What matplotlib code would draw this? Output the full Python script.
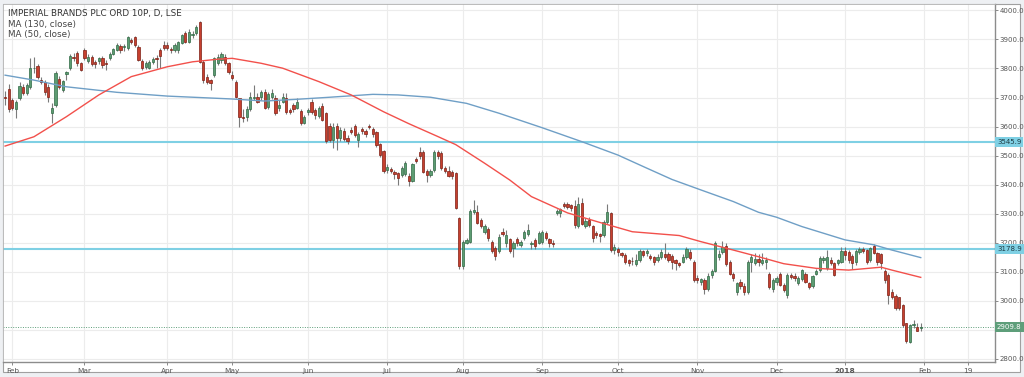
import numpy as np
import pandas as pd
import matplotlib
matplotlib.use("Agg")
import matplotlib.pyplot as plt
from matplotlib.patches import Rectangle

# Imperial Brands daily candles, 30 Jan 2017 - 31 Jan 2018
title = "IMPERIAL BRANDS PLC ORD 10P, D, LSE"
uk_holidays = ["2017-04-14", "2017-04-17", "2017-05-01", "2017-05-29",
               "2017-08-28", "2017-12-25", "2017-12-26", "2018-01-01"]

opens = [
    3702, 3730,
    3692, 3661, 3697, 3737, 3714, 3737, 3800, 3808, 3760, 3754, 3737, 3646, 3674, 3764, 3726, 3781, 3803, 3841, 3855, 3818,
    3864, 3827, 3838, 3821, 3826, 3837, 3818, 3835, 3849, 3864, 3877, 3874, 3870, 3898, 3907, 3875, 3827, 3804, 3803, 3824, 3837, 3863, 3881,
    3881, 3866, 3864, 3862, 3889, 3921, 3892, 3915, 3921, 3959, 3824, 3772, 3760, 3778, 3818, 3829, 3841, 3818,
    3778, 3752, 3697, 3634, 3634, 3660, 3700, 3703, 3703, 3720, 3669, 3703, 3700, 3663, 3686, 3700, 3657, 3674, 3663, 3654, 3614,
    3651, 3686, 3657, 3638, 3672, 3646, 3603, 3554, 3603, 3560, 3585, 3562, 3588, 3602, 3554, 3592, 3585, 3602, 3592, 3580, 3539, 3516,
    3450, 3454, 3445, 3439, 3433, 3436, 3431, 3413, 3488, 3514, 3514, 3447, 3433, 3451, 3511, 3508, 3459, 3447, 3445, 3439, 3284,
    3120, 3200, 3204, 3307, 3307, 3278, 3238, 3246, 3204, 3181, 3173, 3236, 3198, 3212, 3181, 3213, 3193, 3215, 3230, 3196, 3210, 3200,
    3204, 3233, 3212, 3200, 3301, 3301, 3334, 3332, 3330, 3327, 3259, 3336, 3259, 3278, 3258, 3233, 3229, 3227, 3270, 3301, 3175,
    3179, 3166, 3158, 3141, 3138, 3127, 3141, 3172, 3164, 3155, 3150, 3141, 3152, 3162, 3162, 3155, 3141, 3129, 3135, 3150, 3170, 3135,
    3078, 3066, 3072, 3041, 3089, 3104, 3152, 3170, 3190, 3133, 3091, 3029, 3066, 3051, 3030, 3135, 3132, 3143, 3132, 3135, 3093, 3040,
    3066, 3091, 3055, 3020, 3089, 3086, 3063, 3074, 3093, 3060, 3051, 3093, 3106, 3141, 3112, 3141, 3129, 3132, 3135,
    3173, 3169, 3155, 3135, 3170, 3178, 3175, 3141, 3189, 3164, 3161, 3104, 3089, 3032, 3017, 3012, 2986, 2923, 2860, 2918, 2911, 2906,
]
highs = [
    3722, 3745,
    3700, 3690, 3754, 3745, 3750, 3835, 3840, 3815, 3770, 3760, 3745, 3680, 3790, 3775, 3762, 3792, 3850, 3855, 3860, 3822,
    3870, 3850, 3845, 3830, 3840, 3842, 3830, 3858, 3870, 3888, 3885, 3885, 3912, 3905, 3912, 3880, 3832, 3825, 3830, 3838, 3845, 3870, 3895,
    3890, 3875, 3888, 3895, 3920, 3930, 3935, 3930, 3950, 3962, 3830, 3780, 3765, 3840, 3850, 3857, 3850, 3822,
    3790, 3760, 3700, 3660, 3670, 3720, 3743, 3715, 3725, 3730, 3720, 3730, 3710, 3690, 3715, 3715, 3665, 3680, 3700, 3660, 3640,
    3665, 3695, 3665, 3670, 3680, 3650, 3612, 3612, 3612, 3600, 3595, 3570, 3600, 3610, 3580, 3600, 3590, 3608, 3598, 3585, 3545, 3520,
    3470, 3460, 3450, 3445, 3465, 3480, 3440, 3475, 3495, 3530, 3520, 3455, 3455, 3520, 3520, 3515, 3465, 3465, 3450, 3445, 3290,
    3210, 3215, 3315, 3347, 3330, 3285, 3265, 3255, 3210, 3190, 3230, 3250, 3245, 3218, 3205, 3220, 3210, 3245, 3265, 3205, 3215, 3240,
    3245, 3240, 3218, 3210, 3318, 3320, 3340, 3340, 3335, 3347, 3359, 3353, 3285, 3290, 3262, 3240, 3235, 3280, 3333, 3305, 3195,
    3185, 3170, 3165, 3145, 3150, 3160, 3180, 3175, 3180, 3160, 3155, 3160, 3180, 3200, 3170, 3160, 3145, 3135, 3160, 3185, 3180, 3140,
    3090, 3080, 3078, 3095, 3110, 3205, 3175, 3205, 3200, 3140, 3100, 3065, 3075, 3060, 3140, 3160, 3165, 3160, 3165, 3150, 3100, 3080,
    3085, 3100, 3060, 3095, 3095, 3095, 3085, 3110, 3100, 3065, 3090, 3110, 3155, 3155, 3175, 3150, 3135, 3145, 3185,
    3185, 3175, 3160, 3178, 3185, 3185, 3180, 3185, 3195, 3170, 3165, 3110, 3095, 3040, 3025, 3015, 2990, 2925, 2920, 2935, 2925, 2925,
]
lows = [
    3675, 3650,
    3656, 3628, 3690, 3708, 3710, 3730, 3785, 3765, 3745, 3710, 3686, 3612, 3668, 3730, 3720, 3760, 3795, 3825, 3810, 3790,
    3830, 3820, 3808, 3800, 3815, 3800, 3795, 3830, 3845, 3860, 3855, 3860, 3865, 3885, 3875, 3825, 3795, 3798, 3798, 3815, 3800, 3800, 3862,
    3865, 3855, 3858, 3855, 3885, 3888, 3888, 3905, 3915, 3820, 3750, 3745, 3725, 3770, 3812, 3820, 3812, 3780,
    3760, 3700, 3600, 3615, 3620, 3655, 3690, 3680, 3690, 3660, 3660, 3695, 3640, 3655, 3680, 3645, 3645, 3650, 3660, 3605, 3608,
    3640, 3645, 3625, 3630, 3618, 3545, 3548, 3528, 3520, 3550, 3550, 3540, 3575, 3565, 3530, 3575, 3565, 3590, 3565, 3530, 3495, 3440,
    3440, 3440, 3420, 3400, 3425, 3430, 3395, 3410, 3475, 3490, 3440, 3410, 3425, 3445, 3490, 3450, 3440, 3425, 3420, 3315, 3110,
    3110, 3195, 3200, 3300, 3265, 3250, 3230, 3205, 3165, 3140, 3165, 3225, 3185, 3165, 3150, 3190, 3185, 3210, 3225, 3180, 3180, 3195,
    3195, 3210, 3185, 3185, 3295, 3290, 3320, 3315, 3310, 3250, 3250, 3260, 3250, 3255, 3204, 3215, 3204, 3220, 3265, 3170, 3160,
    3155, 3150, 3128, 3120, 3125, 3120, 3135, 3150, 3155, 3140, 3125, 3135, 3145, 3145, 3135, 3110, 3105, 3118, 3130, 3145, 3140, 3065,
    3062, 3055, 3025, 3035, 3080, 3100, 3140, 3160, 3120, 3088, 3070, 3020, 3040, 3020, 3025, 3100, 3125, 3120, 3125, 3110, 3040, 3030,
    3055, 3050, 3030, 3010, 3075, 3070, 3055, 3070, 3060, 3040, 3045, 3090, 3100, 3130, 3105, 3125, 3085, 3125, 3130,
    3140, 3130, 3110, 3125, 3160, 3165, 3128, 3135, 3160, 3125, 3110, 3060, 2990, 3005, 2970, 2970, 2910, 2855, 2855, 2905, 2895, 2895,
]
closes = [
    3697, 3661,
    3663, 3684, 3740, 3717, 3743, 3800, 3803, 3772, 3755, 3720, 3703, 3665, 3783, 3737, 3757, 3787, 3844, 3835, 3818, 3795,
    3837, 3841, 3814, 3814, 3835, 3812, 3815, 3850, 3866, 3881, 3864, 3876, 3907, 3892, 3881, 3829, 3801, 3818, 3824, 3831, 3832, 3844, 3869,
    3872, 3862, 3881, 3890, 3915, 3892, 3927, 3918, 3944, 3824, 3760, 3755, 3749, 3835, 3841, 3849, 3818, 3789,
    3766, 3703, 3634, 3631, 3660, 3703, 3703, 3686, 3720, 3663, 3711, 3717, 3646, 3674, 3703, 3651, 3651, 3660, 3684, 3611, 3634,
    3657, 3651, 3640, 3663, 3623, 3552, 3554, 3600, 3560, 3588, 3557, 3552, 3583, 3571, 3574, 3585, 3573, 3600, 3573, 3537, 3502, 3447,
    3462, 3447, 3438, 3424, 3456, 3474, 3411, 3470, 3482, 3500, 3443, 3433, 3447, 3514, 3500, 3459, 3447, 3431, 3430, 3320, 3120,
    3204, 3210, 3309, 3313, 3269, 3259, 3258, 3215, 3173, 3155, 3221, 3229, 3227, 3172, 3198, 3198, 3204, 3236, 3244, 3196, 3190, 3235,
    3236, 3215, 3200, 3196, 3309, 3316, 3327, 3324, 3321, 3261, 3334, 3265, 3276, 3261, 3215, 3227, 3223, 3273, 3305, 3175, 3187,
    3167, 3158, 3135, 3129, 3136, 3141, 3172, 3158, 3172, 3147, 3133, 3150, 3170, 3150, 3141, 3135, 3129, 3124, 3152, 3179, 3147, 3072,
    3072, 3074, 3041, 3087, 3103, 3198, 3161, 3187, 3126, 3093, 3080, 3061, 3051, 3030, 3135, 3152, 3143, 3135, 3141, 3141, 3047, 3072,
    3078, 3055, 3038, 3089, 3081, 3078, 3078, 3106, 3066, 3049, 3085, 3104, 3147, 3147, 3150, 3132, 3089, 3141, 3173,
    3158, 3141, 3129, 3173, 3178, 3173, 3135, 3181, 3164, 3135, 3132, 3072, 3020, 3015, 2975, 2975, 2917, 2863, 2917, 2920, 2898, 2910,
]

# moving averages at a number of candle positions
ma130_at = [0, 8, 17, 31, 45, 63, 72, 81, 90, 102, 109, 118, 128, 137, 149, 160, 170, 178, 185, 193,
            202, 209, 214, 221, 233, 241, 246, 254]
ma130 = [3777, 3760, 3737, 3718, 3705, 3695, 3688, 3694, 3701, 3711, 3709, 3701, 3680, 3646, 3596, 3548, 3502, 3457, 3418, 3382,
         3342, 3305, 3288, 3256, 3210, 3193, 3175, 3149]
ma50_at = [0, 8, 17, 26, 35, 45, 52, 59, 63, 71, 77, 87, 96, 105, 112, 120, 125, 133, 140, 146, 156,
           165, 174, 187, 193, 202, 209, 216, 225, 234, 243, 246, 254]
ma50 = [3533, 3565, 3634, 3709, 3772, 3806, 3823, 3832, 3835, 3818, 3801, 3755, 3709, 3651, 3610, 3566, 3538, 3474, 3416, 3359, 3303,
        3270, 3238, 3225, 3204, 3175, 3152, 3128, 3112, 3106, 3116, 3106, 3081]

levels = [3545.9, 3178.9]
last_price = 2909.8

dates = pd.bdate_range("2017-01-30", "2018-03-01", freq="C", holidays=uk_holidays)
o, h, l, c = (np.array(a, dtype=float) for a in (opens, highs, lows, closes))
x = np.arange(len(c))

W, H = 1024, 377
fig = plt.figure(figsize=(W / 100, H / 100), dpi=100)
fig.patch.set_facecolor("#eef0f3")
fig.patches.append(Rectangle((3 / W, 5 / H), 1017 / W, 368 / H, transform=fig.transFigure,
                             facecolor="white", edgecolor="#a0a0a0", lw=0.8, zorder=-10))
ax = fig.add_axes([3.3 / W, (H - 362.3) / H, (995 - 3.3) / W, (362.3 - 4) / H])
ax.set_zorder(1)
ax.set_facecolor("white")

# candles
up = c >= o
body_col = np.where(up, "#5d9c72", "#c6402f")
edge_col = np.where(up, "#2f6a45", "#7e1f14")
ax.vlines(x, l, h, color="#7a7a7a", lw=0.8, zorder=3)
height = np.where(np.abs(c - o) < 2, 2, c - o)
ax.bar(x, height, bottom=o, width=0.62, color=body_col, edgecolor=edge_col, linewidth=0.5, zorder=4)

# moving averages
ax.plot(ma130_at, ma130, color="#6f9fc6", lw=1.0, zorder=5)
ax.plot(ma50_at, ma50, color="#f2504b", lw=1.0, zorder=5)

# horizontal levels and last price
for lv in levels:
    ax.axhline(lv, color="#7fd0e4", lw=1.5, zorder=2)
ax.axhline(last_price, color="#5e9e7a", lw=0.7, ls=(0, (1, 1.5)), zorder=2)

ax.set_ylim(2788.6, 4022)
ax.set_xlim(-0.5, 274.6)

# y axis on the right (the 2900 label sits under the last-price tag)
yt = np.arange(2800, 4001, 100)
ax.yaxis.tick_right()
ax.set_yticks(yt)
ax.set_yticklabels(["" if v == 2900 else f"{v:.1f}" for v in yt])
ax.tick_params(axis="y", labelsize=5.0, colors="#777777", labelcolor="#555555", length=2, width=0.6, pad=1.5)

# month ticks at the first trading day of each month
tick_pos, tick_lab = [], []
for m in pd.date_range("2017-02-01", "2018-02-01", freq="MS"):
    idx = int(np.searchsorted(dates, m))
    tick_pos.append(idx)
    tick_lab.append("2018" if m.month == 1 else m.strftime("%b"))
tick_pos.append(int(np.searchsorted(dates, pd.Timestamp("2018-02-19"))))
tick_lab.append("19")
ax.set_xticks(tick_pos)
ax.set_xticklabels(tick_lab)
ax.tick_params(axis="x", labelsize=5.3, colors="#777777", labelcolor="#555555", length=2.5, width=0.6, pad=1.5)
for t in ax.get_xticklabels():
    if t.get_text() == "2018":
        t.set_fontweight("bold")

ax.grid(True, color="#ececec", lw=0.8, zorder=0)
ax.set_axisbelow(True)
for side in ["left", "top"]:
    ax.spines[side].set_color("#b0b0b0")
    ax.spines[side].set_linewidth(0.6)
for side in ["right", "bottom"]:
    ax.spines[side].set_color("#8c8c8c")
    ax.spines[side].set_linewidth(1.0)

# price tags on the right axis
ytr = ax.get_yaxis_transform()
for lv in levels:
    ax.text(1.002, lv, f"{lv:.1f}", transform=ytr, ha="left", va="center", fontsize=5.0, color="#1d3b44",
            bbox=dict(boxstyle="square,pad=0.3", fc="#7fd0e4", ec="none"), clip_on=False, zorder=6)
ax.text(1.002, last_price, f"{last_price:.1f}", transform=ytr, ha="left", va="center", fontsize=5.0, color="white",
        bbox=dict(boxstyle="square,pad=0.3", fc="#5e9e7a", ec="none"), clip_on=False, zorder=6)

# legend text, top left
fig.text(8 / W, 1 - 13.5 / H, title, fontsize=6.3, color="#333333", va="center", zorder=5)
fig.text(8 / W, 1 - 24 / H, "MA (130, close)", fontsize=6.3, color="#444444", va="center", zorder=5)
fig.text(8 / W, 1 - 34 / H, "MA (50, close)", fontsize=6.3, color="#444444", va="center", zorder=5)

fig.savefig("out.png", dpi=100)
